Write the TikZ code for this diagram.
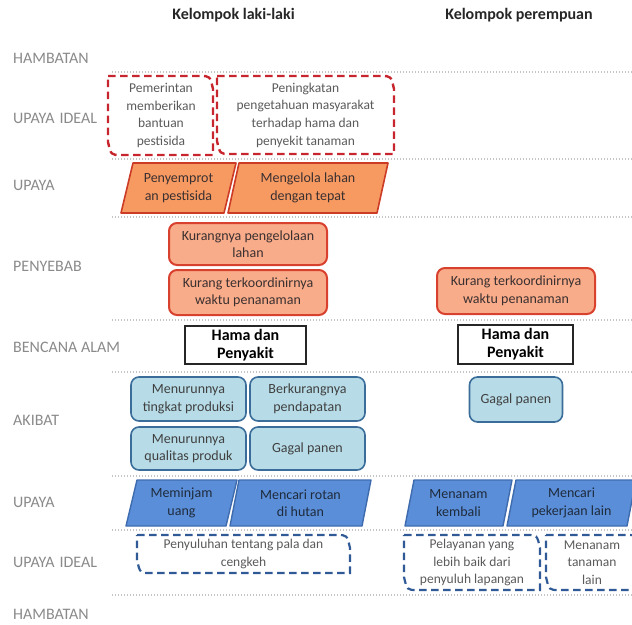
\documentclass[tikz,border=0pt]{standalone}
\usepackage{fontspec}
\setmainfont{Carlito}

\definecolor{labelgray}{HTML}{8A8A8A}
\definecolor{headtext}{HTML}{262626}
\definecolor{sepgray}{HTML}{C4C4C4}
\definecolor{idealred}{HTML}{C8262E}
\definecolor{idealtext}{HTML}{5A5A5A}
\definecolor{actfill}{HTML}{F79A62}
\definecolor{actline}{HTML}{CC3B26}
\definecolor{causefill}{HTML}{F9AC8A}
\definecolor{causeline}{HTML}{D9412F}
\definecolor{warmtext}{HTML}{3A3030}
\definecolor{effectfill}{HTML}{B7DCE8}
\definecolor{effectline}{HTML}{3A6D99}
\definecolor{effecttext}{HTML}{404040}
\definecolor{copefill}{HTML}{5B8ED8}
\definecolor{copeline}{HTML}{3E6BAE}
\definecolor{copetext}{HTML}{1E2B3C}
\definecolor{idealblue}{HTML}{2F5A96}

% box with two rounded corners (top right, bottom left): style, x1, y1, x2, y2
\newcommand{\cornerbox}[5]{%
  \draw[#1] (#2,#3) -- (#4-13,#3) .. controls (#4-3,#3) .. (#4,#3+13)
    -- (#4,#5) -- (#2+13,#5) .. controls (#2+3,#5) .. (#2,#5-13) -- cycle;}
% parallelogram: style, bottom-left x, bottom-right x, top y, bottom y, slant
\newcommand{\slantbox}[6]{%
  \draw[#1] (#2,#5) -- (#2+#6,#4) -- (#3+#6,#4) -- (#3,#5) -- cycle;}

\tikzset{
  rowlabel/.style={anchor=west, inner sep=0pt, text=labelgray,
    font=\fontsize{16}{18}\selectfont},
  grouphead/.style={inner sep=0pt, text=headtext,
    font=\bfseries\fontsize{16}{18}\selectfont},
  separator/.style={sepgray, line width=1.3pt, dash pattern=on 1.4pt off 1.6pt},
  idealR/.style={idealred, line width=2.4pt, dash pattern=on 7.5pt off 4.5pt},
  idealB/.style={idealblue, line width=2.2pt, dash pattern=on 7.5pt off 4.5pt},
  idealtxt/.style={align=center, inner sep=0pt, text=idealtext,
    font=\fontsize{13.5}{17.6}\selectfont},
  actshape/.style={fill=actfill, draw=actline, line width=1.6pt, line join=round},
  copeshape/.style={fill=copefill, draw=copeline, line width=1.4pt, line join=round},
  acttxt/.style={align=center, inner sep=0pt, text=warmtext,
    font=\fontsize{14}{17.5}\selectfont},
  copetxt/.style={align=center, inner sep=0pt, text=copetext,
    font=\fontsize{14}{17.5}\selectfont},
  causebox/.style={rectangle, rounded corners=8pt, fill=causefill, draw=causeline,
    line width=2pt, align=center, inner sep=0pt, text=warmtext,
    font=\fontsize{14}{17.5}\selectfont},
  hazardbox/.style={rectangle, draw=black!85, line width=1.8pt, fill=white,
    align=center, inner sep=0pt, text=black,
    font=\bfseries\fontsize{16}{18}\selectfont},
  effectbox/.style={rectangle, rounded corners=8pt, fill=effectfill, draw=effectline,
    line width=1.6pt, align=center, inner sep=0pt, text=effecttext,
    font=\fontsize{14}{17.5}\selectfont},
}

\begin{document}
\begin{tikzpicture}[x=1pt,y=-1pt]
\useasboundingbox (0,0) rectangle (632,624);
\clip (0,0) rectangle (632,624);

% column headings
\node[grouphead] (headM) at (233.5,15) {Kelompok laki-laki};
\node[grouphead] (headF) at (519,15) {Kelompok perempuan};

% row labels
\node[rowlabel] (rowA) at (13,58)  {HAMBATAN};
\node[rowlabel] (rowB) at (13,118) {UPAYA\hspace{5pt}IDEAL};
\node[rowlabel] (rowC) at (13,185) {UPAYA};
\node[rowlabel] (rowD) at (13,266) {PENYEBAB};
\node[rowlabel] (rowE) at (13,347) {BENCANA ALAM};
\node[rowlabel] (rowF) at (13,420) {AKIBAT};
\node[rowlabel] (rowG) at (13,502) {UPAYA};
\node[rowlabel] (rowH) at (13,562) {UPAYA\hspace{5pt}IDEAL};
\node[rowlabel] (rowI) at (13,614) {HAMBATAN};

% dotted row separators
\foreach \yy in {72,159,217,320,372,476,530,595}
  \draw[separator] (112,\yy) -- (632,\yy);

% ideal efforts (men)
\cornerbox{idealR}{108}{76}{213}{155}
\node[idealtxt] (idealM1) at (161,115.5) {Pemerintan\\memberikan\\bantuan\\pestisida};
\cornerbox{idealR}{217}{76}{394}{154}
\node[idealtxt] (idealM2) at (305.5,115) {Peningkatan\\pengetahuan masyarakat\\terhadap hama dan\\penyekit tanaman};

% efforts (men)
\slantbox{actshape}{121}{224}{163}{213}{12}
\node[acttxt] (actM1) at (178.5,188) {Penyemprot\\an pestisida};
\slantbox{actshape}{228}{377}{163}{213}{11}
\node[acttxt] (actM2) at (308,188) {Mengelola lahan\\dengan tepat};

% causes
\node[causebox, minimum width=158pt, minimum height=42pt] (causeM1) at (248,244) {Kurangnya pengelolaan\\lahan};
\node[causebox, minimum width=158pt, minimum height=45pt] (causeM2) at (248,292.5) {Kurang terkoordinirnya\\waktu penanaman};
\node[causebox, minimum width=158pt, minimum height=46pt] (causeF1) at (516,291) {Kurang terkoordinirnya\\waktu penanaman};

% natural hazard
\node[hazardbox, minimum width=121pt, minimum height=38pt] (hazardM) at (245.5,345) {Hama dan\\Penyakit};
\node[hazardbox, minimum width=115pt, minimum height=39pt] (hazardF) at (515.5,344.5) {Hama dan\\Penyakit};

% effects
\node[effectbox, minimum width=115pt, minimum height=44pt] (effM1) at (188.5,399) {Menurunnya\\tingkat produksi};
\node[effectbox, minimum width=115pt, minimum height=44pt] (effM2) at (307.5,399) {Berkurangnya\\pendapatan};
\node[effectbox, minimum width=115pt, minimum height=43pt] (effM3) at (188.5,448.5) {Menurunnya\\qualitas produk};
\node[effectbox, minimum width=115pt, minimum height=43pt] (effM4) at (307.5,448.5) {Gagal panen};
\node[effectbox, minimum width=93pt, minimum height=45pt] (effF1) at (516,399.5) {Gagal panen};

% coping efforts
\slantbox{copeshape}{126}{226}{480}{526}{11}
\node[copetxt] (copeM1) at (181.5,503) {Meminjam\\uang};
\slantbox{copeshape}{230}{362}{480}{526}{9}
\node[copetxt] (copeM2) at (300.5,503) {Mencari rotan\\di hutan};
\slantbox{copeshape}{405}{503}{480}{526}{9}
\node[copetxt] (copeF1) at (458.5,503) {Menanam\\kembali};
\slantbox{copeshape}{507}{627}{480}{526}{9}
\node[copetxt] (copeF2) at (571.5,503) {Mencari\\pekerjaan lain};

% ideal efforts (lower band)
\cornerbox{idealB}{137}{535}{350}{573}
\node[idealtxt] (idealM3) at (243.5,554) {Penyuluhan tentang pala dan\\cengkeh};
\cornerbox{idealB}{404}{535}{540}{590}
\node[idealtxt] (idealF1) at (472,562.5) {Pelayanan yang\\lebih baik dari\\penyuluh lapangan};
\cornerbox{idealB}{546}{535}{640}{590}
\node[idealtxt] (idealF2) at (592,562.5) {Menanam\\tanaman\\lain};
\end{tikzpicture}
\end{document}
